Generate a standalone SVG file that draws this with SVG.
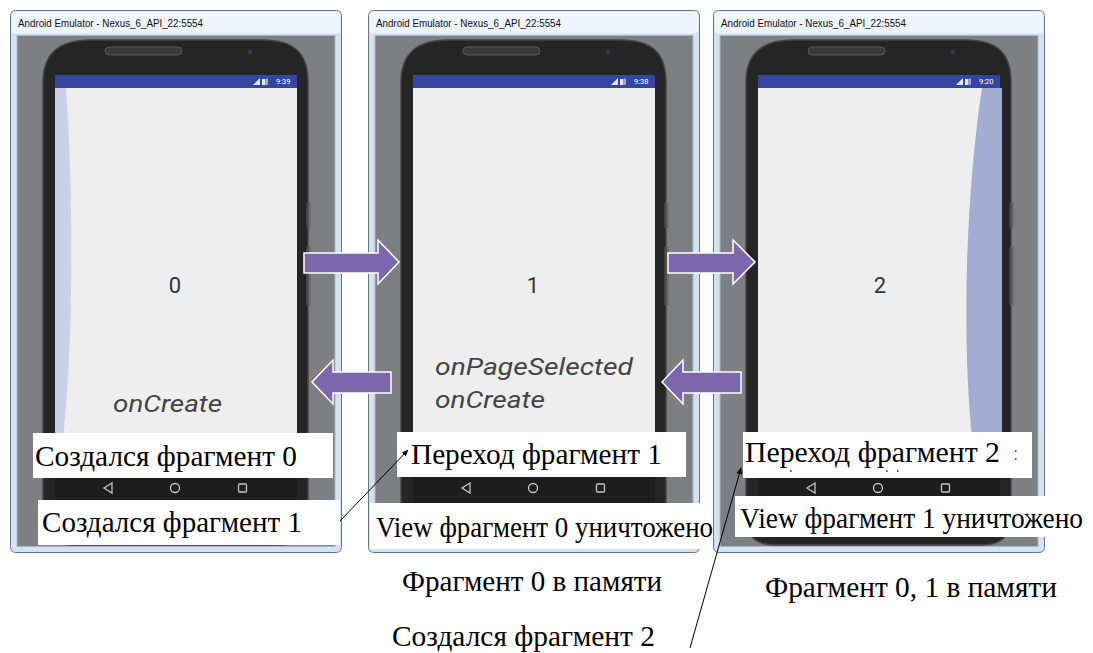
<svg xmlns="http://www.w3.org/2000/svg" xmlns:xlink="http://www.w3.org/1999/xlink" width="1093" height="653" viewBox="0 0 1093 653">
  <style>
    .frame { fill: #d3e1f1; stroke: #66768a; stroke-width: 1; }
    .titlebar { fill: #eef4fb; }
    .client { fill: #7e7f82; stroke: #a9b8c9; stroke-width: 1; }
    .body { fill: #252525; stroke: #464646; stroke-width: 1.5; }
    .screen { fill: #eeeeee; }
    .status { fill: #3545a0; }
    .nav { fill: none; stroke: #c4c4c4; stroke-width: 1.3; }
    .btn { fill: none; stroke: #5a5a5a; stroke-width: 1; }
    .title { font-family: "Segoe UI", "Liberation Sans", Arial, sans-serif; font-size: 10px; fill: #111; }
    .clock { font-family: Roboto, "Liberation Sans", sans-serif; font-size: 7.5px; fill: #ffffff; }
    .page { font-family: Roboto, "Liberation Sans", sans-serif; font-size: 22px; fill: #333333; text-anchor: middle; }
    .cb { font-family: Roboto, "Liberation Sans", sans-serif; font-style: italic; font-size: 24px; fill: #444444; }
    .label { font-family: "Liberation Serif", "Times New Roman", serif; font-size: 30px; fill: #000; }
    .box { fill: #ffffff; }
    .move { fill: #7e66ad; stroke: #ffffff; stroke-width: 1.5; stroke-linejoin: miter; }
    .link { fill: none; stroke: #000; stroke-width: 1; }
  </style>
  <defs>
    <marker id="head" viewBox="0 0 10 10" refX="9" refY="5" markerWidth="7" markerHeight="7" orient="auto" markerUnits="userSpaceOnUse">
      <path d="M0,1 L10,5 L0,9 Z" fill="#000"/>
    </marker>
    <!-- emulator window chrome with the phone, in window-local coordinates -->
    <g id="chrome">
      <rect class="frame" x="0.5" y="0.5" width="331" height="542" rx="5"/>
      <rect class="titlebar" x="1.5" y="1.5" width="329" height="22" rx="4"/>
      <rect class="client" x="7" y="25.5" width="318" height="511"/>
      <path class="body" d="M33,72 C33,44 48,30 80,30 L253,30 C285,30 298,44 298,72 L298,505 C298,527 288,535 268,535 L63,535 C43,535 33,527 33,505 Z"/>
      <rect x="95" y="37" width="77" height="8" rx="4" fill="#3a3a3a" stroke="#565656" stroke-width="1"/>
      <circle cx="240" cy="42" r="2.3" fill="#2c3c60"/>
      <rect class="screen" x="45" y="78" width="242" height="350"/>
      <rect class="status" x="45" y="65" width="242" height="13"/>
      <!-- status icons -->
      <path d="M243,75 L250,68 L250,75 Z" fill="#e8e8f4"/>
      <rect x="252" y="69" width="3.5" height="6" fill="#e8e8f4"/>
      <rect x="256" y="68.5" width="2" height="6.5" fill="#e8e8f4" opacity="0.6"/>
      <!-- navigation bar -->
      <rect x="45" y="428" width="242" height="80" fill="#1d1d1d"/>
      <path class="nav" d="M102,473 L94,478 L102,483 Z"/>
      <circle class="nav" cx="165" cy="478" r="4.5"/>
      <rect class="nav" x="228.5" y="474" width="8" height="8" rx="1"/>
      <rect class="btn" x="297" y="193" width="3" height="25" rx="1"/>
      <rect class="btn" x="297" y="237" width="3" height="58" rx="1"/>
      <text class="title" x="8" y="17" textLength="185" lengthAdjust="spacingAndGlyphs">Android Emulator - Nexus_6_API_22:5554</text>
    </g>
  </defs>

  <rect width="1093" height="653" fill="#ffffff"/>

  <g id="window-1">
    <use href="#chrome" x="10" y="10"/>
    <path d="M55,88 L66,88 C74,200 73,350 63,438 L55,438 Z" fill="#ccd0e6"/>
    <text class="clock" x="276" y="84">9:39</text>
    <text class="page" x="175" y="293">0</text>
    <text class="cb" x="113" y="412" textLength="109" lengthAdjust="spacingAndGlyphs">onCreate</text>
  </g>

  <g id="window-2">
    <use href="#chrome" x="368" y="10"/>
    <text class="clock" x="634" y="84">9:38</text>
    <text class="page" x="533" y="293">1</text>
    <text class="cb" x="435" y="375" textLength="198" lengthAdjust="spacingAndGlyphs">onPageSelected</text>
    <text class="cb" x="435" y="408" textLength="110" lengthAdjust="spacingAndGlyphs">onCreate</text>
  </g>

  <g id="window-3">
    <use href="#chrome" x="713" y="10"/>
    <path d="M1002,88 L982,88 C965,200 962,340 972,438 L1002,438 Z" fill="#a5acd4"/>
    <text class="clock" x="979" y="84">9:20</text>
    <text class="page" x="880" y="293">2</text>
  </g>

  <g id="swipes">
    <polygon class="move" points="304,253 378,253 378,240 399,262 378,284 378,273 304,273"/>
    <polygon class="move" points="312,382 333,360 333,372 391,372 391,393 333,393 333,404"/>
    <polygon class="move" points="668,253 733,253 733,240 755,262 733,284 733,273 668,273"/>
    <polygon class="move" points="662,382 683,360 683,372 741,372 741,393 683,393 683,404"/>
  </g>

  <g id="label-created-0">
    <rect class="box" x="33" y="433" width="300" height="45"/>
    <text class="label" x="35" y="466" textLength="262" lengthAdjust="spacingAndGlyphs">Создался фрагмент 0</text>
  </g>
  <g id="label-created-1">
    <rect class="box" x="38" y="500" width="302" height="45"/>
    <text class="label" x="42" y="532" textLength="260" lengthAdjust="spacingAndGlyphs">Создался фрагмент 1</text>
  </g>
  <g id="label-switch-1">
    <rect class="box" x="397" y="432" width="289" height="45"/>
    <text class="label" x="411" y="464" textLength="251" lengthAdjust="spacingAndGlyphs">Переход фрагмент 1</text>
  </g>
  <g id="label-view-0">
    <rect class="box" x="370" y="503" width="343" height="46"/>
    <text class="label" x="376" y="537" textLength="337" lengthAdjust="spacingAndGlyphs">View фрагмент 0 уничтожено</text>
  </g>
  <g id="label-switch-2">
    <rect class="box" x="743" y="432" width="289" height="46"/>
    <text class="label" x="745" y="462" textLength="255" lengthAdjust="spacingAndGlyphs">Переход фрагмент 2</text>
    <rect x="1015" y="450" width="1.5" height="2" fill="#555"/>
    <rect x="1015" y="458" width="1.5" height="2" fill="#555"/>
    <rect x="790" y="470" width="1.5" height="2" fill="#555"/>
    <rect x="886" y="470" width="1.5" height="2" fill="#555"/>
    <rect x="897" y="470" width="1.5" height="2" fill="#555"/>
  </g>
  <g id="label-view-1">
    <rect class="box" x="735" y="496" width="358" height="41"/>
    <text class="label" x="740" y="528" font-size="28" textLength="343" lengthAdjust="spacingAndGlyphs">View фрагмент 1 уничтожено</text>
  </g>
  <g id="label-memory-0">
    <text class="label" x="402" y="591" textLength="260" lengthAdjust="spacingAndGlyphs">Фрагмент 0 в памяти</text>
  </g>
  <g id="label-memory-01">
    <text class="label" x="765" y="597" textLength="292" lengthAdjust="spacingAndGlyphs">Фрагмент 0, 1 в памяти</text>
  </g>
  <g id="label-created-2">
    <text class="label" x="392" y="646" textLength="263" lengthAdjust="spacingAndGlyphs">Создался фрагмент 2</text>
  </g>

  <g id="connectors">
    <line class="link" x1="340" y1="521" x2="408" y2="450" marker-end="url(#head)"/>
    <line class="link" x1="690" y1="648" x2="741" y2="468" marker-end="url(#head)"/>
  </g>
</svg>
